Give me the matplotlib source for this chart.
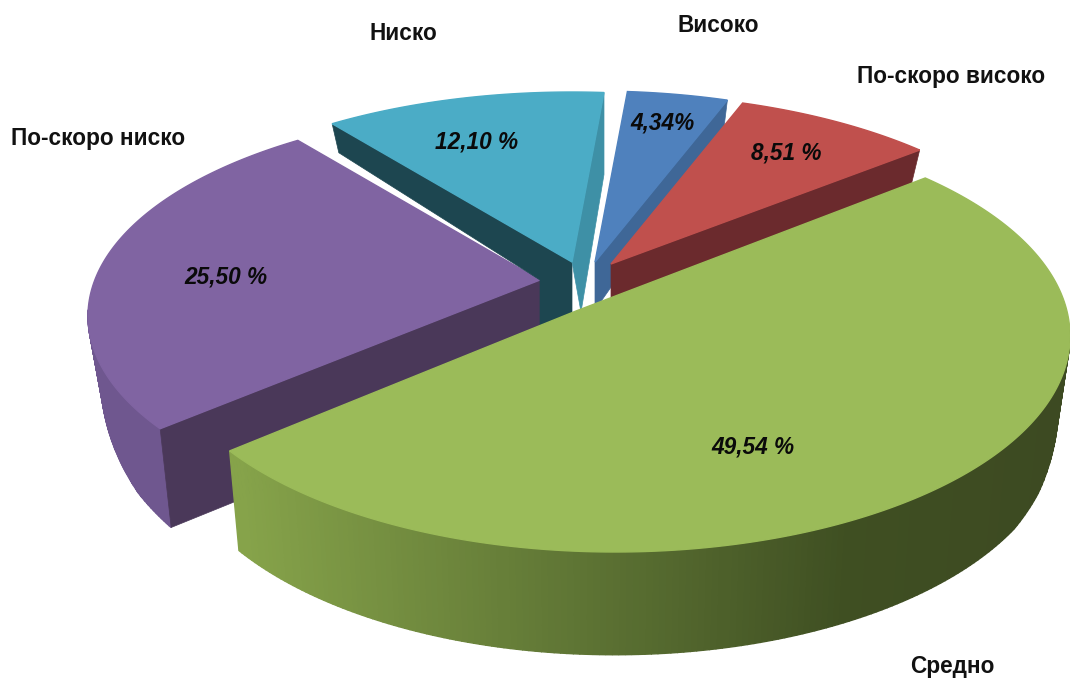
#!/usr/bin/env python3

import matplotlib
matplotlib.use("Agg")
import matplotlib.pyplot as plt
import numpy as np
from matplotlib.colors import to_rgb
from matplotlib.patches import Polygon

categories = ["Високо", "По-скоро високо", "Средно", "По-скоро ниско", "Ниско"]
values = [4.34, 8.51, 49.54, 25.50, 12.10]
value_labels = ["4,34%", "8,51 %", "49,54 %", "25,50 %", "12,10 %"]

# layout, all in figure pixels
start_angle = 5.0
apexes = [(595, 262), (611, 264), (576, 311), (540, 280), (572, 262)]
centers = [(595, 299), (611, 302), (615, 336), (540, 316), (572, 300)]
semi_a = [452, 452, 455, 452, 452]
semi_b = [208, 208, 216, 208, 208]
top_colors = ["#4f81bd", "#c0504d", "#9bbb59", "#8064a2", "#4bacc6"]
rim_colors = ["#3f6797", "#8a3a38", "#8aa64f", "#6f578f", "#3e90a6"]
label_pos = [(663, 123), (786, 153), (753, 447), (226, 277), (477, 142)]
name_pos = [(718, 26), (951, 77), (952, 667), (98, 138), (403, 34)]
draw_order = [3, 4, 0, 1, 2]

depth_y = [90, 150, 270, 340, 400, 430, 560]
depth_px = [24, 33, 38, 70, 93, 99, 103]


def drop(x, y):
    # bottom edge of the pie under a top-face point
    return x + (600 - x) * 0.025, y + np.interp(y, depth_y, depth_px)


def rim_point(i, phi):
    # where the ray at pie angle phi from the apex hits the slice ellipse
    ax_, ay_ = apexes[i]
    cx, cy = centers[i]
    a, b = semi_a[i], semi_b[i]
    px, py = (ax_ - cx) / a, (ay_ - cy) / b
    dx, dy = np.sin(phi), -np.cos(phi)
    pd = px * dx + py * dy
    t = -pd + np.sqrt(pd ** 2 - (px ** 2 + py ** 2 - 1))
    return cx + a * (px + t * dx), cy + b * (py + t * dy)


def green_shade(x):
    stops = [to_rgb(c) for c in ["#86a34a", "#5c7233", "#3f4f22", "#3d4a22"]]
    return [np.interp(x, [240, 600, 850, 1060], [s[k] for s in stops]) for k in range(3)]


def add_poly(ax, pts, color, z, lw=0.5):
    ax.add_patch(Polygon(pts, closed=True, facecolor=color, edgecolor=color, lw=lw, zorder=z))


fig = plt.figure(figsize=(10.7, 6.79), dpi=100)
ax = fig.add_axes([0, 0, 1, 1])
ax.set_xlim(0, 1070)
ax.set_ylim(679, 0)
ax.axis("off")

edges = start_angle + np.cumsum([0] + values) * 3.6

for z, i in enumerate(draw_order):
    base = z * 10
    phis = np.radians(np.linspace(edges[i], edges[i + 1], 240))
    arc = [rim_point(i, p) for p in phis]
    apex = apexes[i]
    first, last = arc[0], arc[-1]

    # outer wall, only the part facing the viewer
    for p0, p1 in zip(arc[:-1], arc[1:]):
        if p0[1] < centers[i][1] - 5 and p1[1] < centers[i][1] - 5:
            continue
        color = green_shade(p0[0]) if i == 2 else rim_colors[i]
        add_poly(ax, [p0, p1, drop(*p1), drop(*p0)], color, base, lw=1.0)

    # cut faces
    if i == 3:
        add_poly(ax, [apex, first, drop(*first), (apex[0], apex[1] + 98)], "#4a3859", base + 1)
    if i == 4:
        corner = apexes[3]
        add_poly(ax, [apex, first, drop(*first), corner, (corner[0], corner[1] + 60),
                      (apex[0], apex[1] + 60)], "#1d4650", base + 1)
        add_poly(ax, [apex, last, (last[0], last[1] + 82), (apex[0] + 9, apex[1] + 50)],
                 rim_colors[4], base + 1)
    if i == 0:
        add_poly(ax, [apex, last, drop(*last), (apex[0], apex[1] + 48)], rim_colors[0], base + 1)
    if i == 1:
        add_poly(ax, [apex, last, drop(*last), (apex[0], apex[1] + 40)], "#6b2a2d", base + 1)

    add_poly(ax, [apex] + arc, top_colors[i], base + 2, lw=1.0)

for i, name in enumerate(categories):
    ax.text(*label_pos[i], value_labels[i], family="Liberation Sans", weight="bold", style="italic",
            fontsize=16.3, ha="center", va="center", color="#0a0a0a", zorder=100)
    ax.text(*name_pos[i], name, family="Liberation Sans", weight="bold",
            fontsize=16.3, ha="center", va="center", color="#111111", zorder=100)

fig.savefig("out.png", dpi=100)
